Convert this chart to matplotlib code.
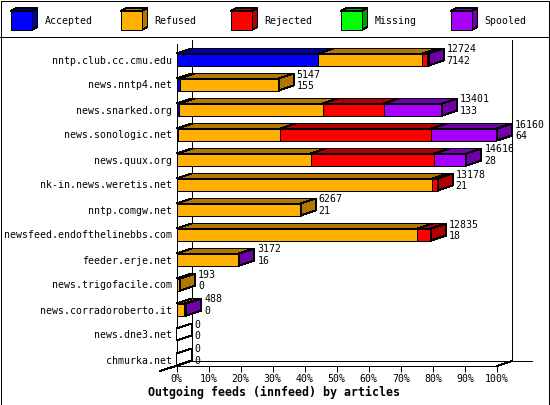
import matplotlib
matplotlib.use('Agg')
import matplotlib.pyplot as plt
from matplotlib.patches import Polygon, Rectangle
from matplotlib.lines import Line2D

# feeds and their article counts
hosts = ['nntp.club.cc.cmu.edu', 'news.nntp4.net', 'news.snarked.org',
         'news.sonologic.net', 'news.quux.org', 'nk-in.news.weretis.net',
         'nntp.comgw.net', 'newsfeed.endofthelinebbs.com', 'feeder.erje.net',
         'news.trigofacile.com', 'news.corradoroberto.it', 'news.dne3.net',
         'chmurka.net']
accepted = [7142, 155, 133, 64, 28, 21, 21, 18, 16, 0, 0, 0, 0]
refused = [5250, 4992, 7240, 5170, 6750, 12870, 6246, 12120, 3126, 193, 400, 0, 0]
rejected = [220, 0, 3080, 7620, 6210, 287, 0, 697, 0, 0, 0, 0, 0]
missing = [0, 0, 0, 0, 0, 0, 0, 0, 0, 0, 0, 0, 0]
spooled = [112, 0, 2948, 3306, 1628, 0, 0, 0, 30, 0, 88, 0, 0]
totals = [12724, 5147, 13401, 16160, 14616, 13178, 6267, 12835, 3172, 193, 488, 0, 0]

series = ['Accepted', 'Refused', 'Rejected', 'Missing', 'Spooled']
light = ['#0000ff', '#ffb000', '#ff0000', '#00ff00', '#a800ff']
dark = ['#0000a8', '#b07800', '#b00000', '#00a000', '#7000a8']

W, H = 550, 405
fig = plt.figure(figsize=(W / 100, H / 100), dpi=100)
fig.patch.set_facecolor('white')

LW = 0.72
FS = 7.1
MONO = 'DejaVu Sans Mono'

# main plot area: 0%..100% across 176.5..497 px, rows 25 px apart
ax = fig.add_axes([176.5 / W, 1 - 366 / H, 320.5 / W, 326 / H])
ax.set_xlim(0, 100)
ax.set_ylim(12.26, -0.78)
for s in ax.spines.values():
    s.set_visible(False)
ax.patch.set_alpha(0)

DX = 15 * 100 / 320.5   # depth in x (percent)
DY = 5 / 25             # depth in y (rows)
BH = 12 / 25            # bar height (rows)

def line(xs, ys, z=1):
    ax.add_line(Line2D(xs, ys, color='black', lw=LW, clip_on=False,
                       zorder=z, antialiased=False, solid_capstyle='butt'))

# walls and floor
line([DX, DX], [-0.78, 12.06])
line([100 + DX, 100 + DX], [-0.78, 12.06])
line([DX, 100 + DX + 6.2], [12.06, 12.06])
line([0, 0], [-0.62, 12.26], z=1)
line([0, 100], [12.26, 12.26])
line([-5.15, DX], [12.46, 12.06])
line([100, 100 + DX], [12.26, 12.06])

vmax = max(totals)
segs = [accepted, refused, rejected, missing, spooled]

for i, host in enumerate(hosts):
    top = i - BH / 2
    bot = i + BH / 2
    left = 0.0
    last = None
    for k, vals in enumerate(segs):
        w = vals[i] / vmax * 100
        if w <= 0:
            continue
        ax.barh(i, w, left=left, height=BH, color=light[k], edgecolor='black',
                linewidth=LW, zorder=3, antialiased=False)
        ax.add_patch(Polygon([(left, top), (left + w, top), (left + w + DX, top - DY),
                              (left + DX, top - DY)], closed=True, fc=dark[k],
                             ec='black', lw=LW, zorder=3, clip_on=False,
                             antialiased=False))
        left += w
        last = k
    side = dark[last] if last is not None else 'white'
    ax.add_patch(Polygon([(left, top), (left + DX, top - DY), (left + DX, bot - DY),
                          (left, bot)], closed=True, fc=side, ec='black', lw=LW,
                         zorder=4, clip_on=False, antialiased=False))
    ax.text(left + DX + 0.9, i - 0.40, str(totals[i]), fontsize=FS, family=MONO,
            va='center', ha='left', zorder=5)
    ax.text(left + DX + 0.9, i + 0.05, str(accepted[i]), fontsize=FS, family=MONO,
            va='center', ha='left', zorder=5)

ax.set_yticks(range(len(hosts)))
ax.set_yticklabels(hosts, family=MONO, fontsize=FS)
ax.set_xticks(range(0, 101, 10))
ax.set_xticklabels([f'{t}%' for t in range(0, 101, 10)], family=MONO, fontsize=FS)
ax.tick_params(axis='y', length=0, pad=3)
ax.tick_params(axis='x', length=4.3, width=LW, pad=1.5, direction='out')

fig.text(274.5 / W, 1 - 392 / H, 'Outgoing feeds (innfeed) by articles',
         family=MONO, fontweight='bold', fontsize=8.4, ha='center', va='center')

# legend strip
lax = fig.add_axes([0, 1 - 36 / H, 1, 36 / H])
lax.set_xlim(0, W)
lax.set_ylim(36, 0)
lax.axis('off')
for k, name in enumerate(series):
    x0 = 10.5 + 110 * k
    lax.add_patch(Polygon([(x0, 11), (x0 + 6, 8), (x0 + 27, 8), (x0 + 21, 11)],
                          closed=True, fc=dark[k], ec='black', lw=LW, antialiased=False))
    lax.add_patch(Polygon([(x0 + 21, 11), (x0 + 27, 8), (x0 + 27, 27), (x0 + 21, 30)],
                          closed=True, fc=dark[k], ec='black', lw=LW, antialiased=False))
    lax.add_patch(Rectangle((x0, 11), 21, 19, fc=light[k], ec='black', lw=LW,
                            antialiased=False))
    lax.text(x0 + 34, 21, name, family=MONO, fontsize=FS, va='center', ha='left')

# separator and outer frame
fig.add_artist(Line2D([0, 1], [1 - 36.5 / H, 1 - 36.5 / H], color='black', lw=LW,
                      transform=fig.transFigure, antialiased=False))
fig.add_artist(Rectangle((0.5 / W, 0.5 / H), 1 - 1.5 / W, 1 - 1.5 / H, fill=False,
                         ec='black', lw=LW, transform=fig.transFigure,
                         antialiased=False))

fig.savefig('out.png', dpi=100)
